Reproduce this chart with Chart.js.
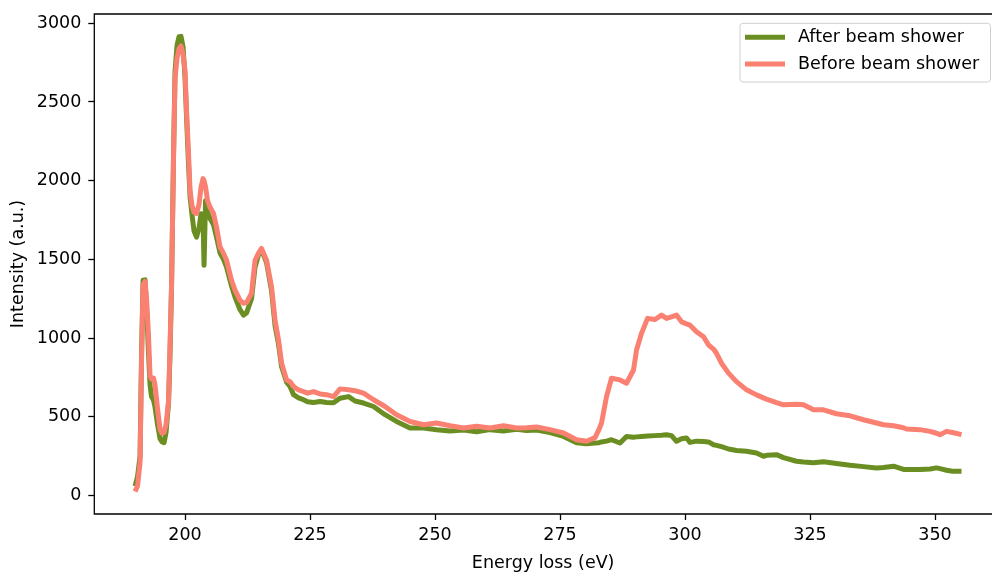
<!DOCTYPE html>
<html>
<head>
<meta charset="utf-8">
<script src="https://cdn.jsdelivr.net/npm/chart.js@4.4.1/dist/chart.umd.min.js"></script>
<style>
  html, body { margin: 0; padding: 0; background: #fff; overflow: hidden; }
</style>
</head>
<body>
<canvas id="eels" width="992" height="575"></canvas>
<script>
// Data (energy in eV, intensity in a.u.)
const energy = [
  190.0, 190.5, 191.0, 191.3, 191.6, 192.0, 192.3, 192.7, 193.0, 193.3,
  193.7, 194.0, 194.5, 195.0, 195.4, 195.8, 196.2, 196.7, 197.0, 197.3,
  197.7, 198.0, 198.4, 198.8, 199.2, 199.6, 200.0, 200.3, 200.7, 201.0,
  201.4, 201.8, 202.3, 202.8, 203.2, 203.6, 203.8, 204.1, 204.5, 205.0,
  205.7, 206.3, 207.0, 207.7, 208.3, 209.3, 210.0, 211.0, 211.7, 212.3,
  213.3, 214.0, 214.7, 215.3, 216.3, 217.3, 218.0, 218.7, 219.3, 220.3,
  221.0, 221.7, 222.7, 223.7, 224.5, 225.7, 227.0, 228.3, 229.7, 231.0,
  232.7, 234.0, 235.7, 237.7, 240.0, 242.3, 245.0, 247.7, 250.3, 253.0,
  255.7, 258.3, 261.0, 263.7, 266.3, 268.3, 270.3, 273.0, 275.7, 278.3,
  280.3, 282.0, 282.8, 283.3, 284.3, 285.3, 287.0, 288.3, 289.7, 290.3,
  291.3, 292.5, 294.0, 295.3, 296.3, 297.3, 298.3, 299.3, 300.3, 301.0,
  302.3, 303.7, 304.7, 305.7, 306.3, 307.3, 308.7, 310.3, 312.3, 314.3,
  315.7, 316.3, 318.3, 319.7, 322.3, 323.7, 325.7, 327.7, 330.3, 333.0,
  335.7, 338.3, 339.7, 341.7, 343.7, 344.3, 347.0, 349.0, 350.3, 351.0,
  352.3, 353.5, 355.3
];
const afterShower = [
  59, 120, 250, 900, 1367, 1370, 1200, 900, 700, 628,
  605, 560, 450, 360, 340, 335, 400, 588, 900, 1325,
  2170, 2696, 2860, 2915, 2917, 2850, 2650, 2400, 2100, 1900,
  1780, 1680, 1641, 1700, 1790, 1760, 1462, 1873, 1800, 1760,
  1720, 1640, 1540, 1500, 1450, 1330, 1260, 1180, 1146, 1160,
  1250, 1450, 1530, 1560, 1480, 1300, 1080, 960, 820, 720,
  692, 640, 620, 608, 595, 591, 597, 590, 589, 618,
  628, 600, 587, 565, 513, 470, 428, 428, 418, 410,
  415, 405, 418, 410, 420, 412, 415, 400, 375, 335,
  329, 333, 335, 340, 345, 354, 333, 375, 370, 372,
  375, 378, 380, 382, 386, 380, 344, 360, 365, 337,
  345, 342, 340, 322, 318, 310, 295, 285, 281, 270,
  249, 255, 259, 240, 217, 212, 207, 214, 203, 192,
  183, 175, 178, 186, 165, 165, 165, 168, 175, 170,
  160, 154, 154
];
const beforeShower = [
  25, 60, 209, 850, 1340, 1360, 1250, 1008, 760, 740,
  745, 700, 550, 420, 395, 400, 450, 600, 950, 1340,
  2150, 2650, 2780, 2840, 2856, 2800, 2700, 2443, 2170, 1937,
  1840, 1800, 1791, 1850, 1960, 2013, 2000, 1960, 1873, 1831,
  1791, 1704, 1578, 1538, 1494, 1367, 1304, 1240, 1221, 1225,
  1285, 1494, 1540, 1569, 1494, 1325, 1114, 987, 842, 734,
  723, 692, 670, 660, 650, 660, 645, 640, 628, 677,
  671, 665, 650, 608, 565, 513, 470, 449, 460, 443,
  428, 439, 428, 443, 428, 430, 435, 418, 397, 354,
  344, 367, 420, 460, 628, 745, 734, 713, 797, 924,
  1030, 1125, 1118, 1146, 1125, 1135, 1146, 1103, 1090, 1082,
  1040, 1008, 956, 930, 903, 840, 777, 723, 671, 639,
  620, 612, 590, 576, 580, 576, 544, 544, 519, 506,
  481, 460, 449, 443, 430, 422, 418, 407, 395, 386,
  407, 400, 386
];
const seriesLabels = ["After beam shower", "Before beam shower"];
const seriesColors = ["#6b8e23", "#fa8072"];
const xTickValues = [200, 225, 250, 275, 300, 325, 350];
const yTickValues = [0, 500, 1000, 1500, 2000, 2500, 3000];

const FONT = "'DejaVu Sans', sans-serif";
const FONT_SIZE = 17.5;

// left, top and bottom spines only: the right spine lies past the figure edge
const framePlugin = {
  id: "frame",
  afterDatasetsDraw(chart) {
    const { ctx, chartArea: a } = chart;
    ctx.save();
    ctx.strokeStyle = "#000";
    ctx.lineWidth = 1.3;
    ctx.beginPath();
    ctx.moveTo(a.right + 2, a.top);
    ctx.lineTo(a.left, a.top);
    ctx.lineTo(a.left, a.bottom);
    ctx.lineTo(a.right + 2, a.bottom);
    ctx.stroke();
    ctx.restore();
  }
};

// legend drawn inside the upper right corner
const legendPlugin = {
  id: "insideLegend",
  afterDraw(chart) {
    const { ctx, chartArea: a } = chart;
    ctx.save();
    ctx.font = FONT_SIZE + "px " + FONT;
    const right = a.right - 1.5;
    const left = 740;
    const top = a.top + 9.3;
    const bottom = top + 58.7;
    ctx.beginPath();
    ctx.roundRect(left, top, right - left, bottom - top, 3);
    ctx.fillStyle = "rgba(255,255,255,0.8)";
    ctx.fill();
    ctx.strokeStyle = "#d0d0d0";
    ctx.lineWidth = 1;
    ctx.stroke();
    seriesLabels.forEach((label, i) => {
      const y = top + 14 + i * 26.7;
      ctx.strokeStyle = seriesColors[i];
      ctx.lineWidth = 5;
      ctx.beginPath();
      ctx.moveTo(left + 5, y);
      ctx.lineTo(left + 45, y);
      ctx.stroke();
      ctx.fillStyle = "#000";
      ctx.textBaseline = "middle";
      ctx.fillText(label, left + 58, y);
    });
    ctx.restore();
  }
};

const toPoints = vals => energy.map((e, i) => ({ x: e, y: vals[i] }));
const axisFont = { family: FONT, size: FONT_SIZE };

// fixed axis sizes; drop the label overhang padding so layout.padding rules
const fixSize = (w, h) => s => {
  if (w !== null) s.width = w;
  if (h !== null) s.height = h;
  s.paddingTop = 0;
  s.paddingBottom = 0;
  s.paddingLeft = 0;
  s.paddingRight = 0;
};

new Chart(document.getElementById("eels"), {
  type: "line",
  data: {
    datasets: [
      {
        label: seriesLabels[1],
        data: toPoints(beforeShower),
        borderColor: seriesColors[1],
        borderWidth: 5,
        order: 0
      },
      {
        label: seriesLabels[0],
        data: toPoints(afterShower),
        borderColor: seriesColors[0],
        borderWidth: 5,
        order: 1
      }
    ]
  },
  options: {
    responsive: false,
    animation: false,
    devicePixelRatio: 1,
    layout: { padding: { top: 14, right: 0, left: 0, bottom: 0 } },
    elements: {
      point: { radius: 0 },
      line: { tension: 0, borderJoinStyle: "round", borderCapStyle: "butt" }
    },
    plugins: { legend: { display: false }, tooltip: { enabled: false } },
    scales: {
      x: {
        type: "linear",
        min: 181.85,
        max: 361.4,
        afterFit: fixSize(null, 61),
        afterBuildTicks: s => { s.ticks = xTickValues.map(v => ({ value: v })); },
        border: { display: false },
        grid: { drawOnChartArea: false, drawTicks: true, tickLength: 6, tickWidth: 1.3, color: "#000" },
        ticks: { color: "#000", padding: 5, font: axisFont, maxRotation: 0, callback: v => String(v) },
        title: {
          display: true,
          text: "Energy loss (eV)",
          color: "#000",
          font: axisFont,
          padding: { top: 0, bottom: 1 }
        }
      },
      y: {
        min: -118,
        max: 3059,
        afterFit: fixSize(94.3, null),
        afterBuildTicks: s => { s.ticks = yTickValues.map(v => ({ value: v })); },
        border: { display: false },
        grid: { drawOnChartArea: false, drawTicks: true, tickLength: 6, tickWidth: 1.3, color: "#000" },
        ticks: { color: "#000", padding: 7, font: axisFont, callback: v => String(v) },
        title: {
          display: true,
          text: "Intensity (a.u.)",
          color: "#000",
          font: axisFont,
          padding: { top: 8, bottom: 0 }
        }
      }
    }
  },
  plugins: [framePlugin, legendPlugin]
});
</script>
</body>
</html>
